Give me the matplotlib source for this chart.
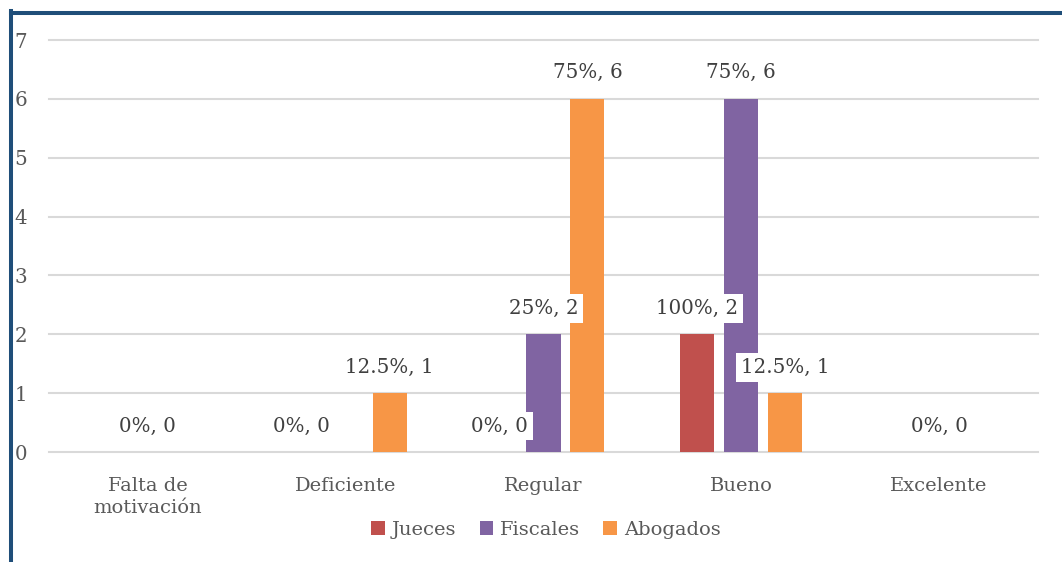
import numpy as np
import matplotlib.pyplot as plt
from matplotlib.lines import Line2D

categories = ["Falta de\nmotivación", "Deficiente", "Regular", "Bueno", "Excelente"]
series = ["Jueces", "Fiscales", "Abogados"]
jueces = [0, 0, 0, 2, 0]
fiscales = [0, 0, 2, 6, 0]
abogados = [0, 1, 6, 1, 0]
jueces_pct = ["0%", "0%", "0%", "100%", "0%"]
fiscales_pct = ["0%", "0%", "25%", "75%", "0%"]
abogados_pct = ["0%", "12.5%", "75%", "12.5%", "0%"]
colors = ["#C0504D", "#8064A2", "#F79646"]

# which (series, category) pairs carry a visible label
shown = [(1, 0), (0, 1), (2, 1), (0, 2), (1, 2), (2, 2),
         (0, 3), (1, 3), (2, 3), (1, 4)]

text_color = "#595959"
label_color = "#404040"
plt.rcParams['font.family'] = "DejaVu Serif"

W, H = 1062, 562
fig = plt.figure(figsize=(W / 100, H / 100), dpi=100)
ax = fig.add_axes([49 / W, 110 / H, (1038 - 49) / W, (452 - 40) / H])

values = [jueces, fiscales, abogados]
pcts = [jueces_pct, fiscales_pct, abogados_pct]
x = np.arange(len(categories))
width = 0.172
step = 0.222
for i, (name, vals) in enumerate(zip(series, values)):
    ax.bar(x + (i - 1) * step, vals, width, color=colors[i], label=name, zorder=2)

for s, c in shown:
    v = values[s][c]
    ax.annotate(f"{pcts[s][c]}, {v}", xy=(x[c] + (s - 1) * step, v),
                xytext=(0, 26), textcoords="offset pixels",
                ha="center", va="center", fontsize=14.3, color=label_color,
                bbox=dict(boxstyle="square,pad=0.25", fc="white", ec="none"),
                zorder=4)

ax.set_xlim(-0.5, len(categories) - 0.5)
ax.set_ylim(0, 7)
ax.set_yticks(range(8))
ax.yaxis.grid(True, color="#D9D9D9", linewidth=1.5, zorder=0)
ax.set_axisbelow(True)
for gl in ax.get_ygridlines():
    gl.set_clip_on(False)
for sp in ax.spines.values():
    sp.set_visible(False)
ax.tick_params(axis="y", length=0, pad=25, labelsize=14.3, labelcolor=text_color)
for lbl in ax.get_yticklabels():
    lbl.set_horizontalalignment("left")
ax.set_xticks(x)
ax.set_xticklabels(categories, fontsize=14, color=text_color, linespacing=1.3)
ax.tick_params(axis="x", length=0, pad=18)

leg = fig.legend(loc="center", bbox_to_anchor=(546 / W, 1 - 530 / H), ncol=3,
                 frameon=False, fontsize=14, handlelength=0.7, handleheight=0.7,
                 handletextpad=0.35, columnspacing=1.2)
for t in leg.get_texts():
    t.set_color(text_color)

# frame border on the left and top edges
border = "#1F4E79"
fig.add_artist(Line2D([11 / W, 11 / W], [0, 1 - 11 / H], color=border, linewidth=2.9,
                      transform=fig.transFigure, solid_capstyle="projecting"))
fig.add_artist(Line2D([11 / W, 1], [1 - 12.5 / H, 1 - 12.5 / H], color=border, linewidth=2.9,
                      transform=fig.transFigure, solid_capstyle="projecting"))

fig.savefig("out.png", dpi=100)
